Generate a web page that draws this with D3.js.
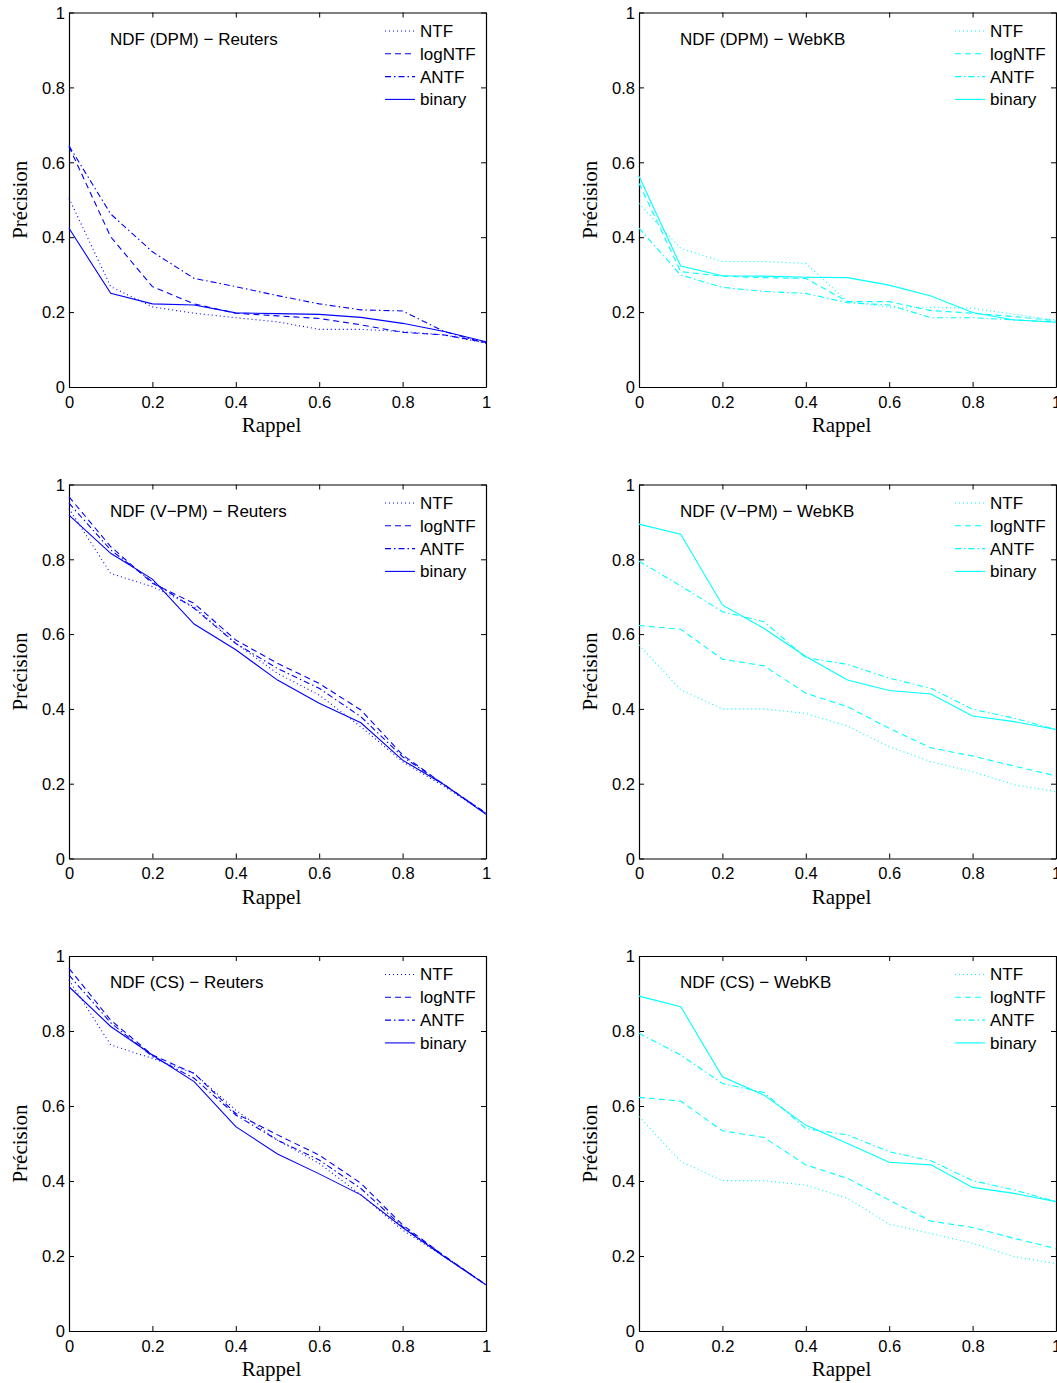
<!DOCTYPE html>
<html><head><meta charset="utf-8">
<script src="https://cdn.jsdelivr.net/npm/d3@7"></script>
<style>body{margin:0;background:#fff}</style>
</head><body>
<svg id="chart" width="1057" height="1383"></svg>
<script>
const recall = [0,0.1,0.2,0.3,0.4,0.5,0.6,0.7,0.8,0.9,1];
const seriesNames = ["NTF","logNTF","ANTF","binary"];
const ticks = [0,0.2,0.4,0.6,0.8,1];
const tickLabels = ["0","0.2","0.4","0.6","0.8","1"];
const titles = ["NDF (DPM) − Reuters","NDF (DPM) − WebKB","NDF (V−PM) − Reuters","NDF (V−PM) − WebKB","NDF (CS) − Reuters","NDF (CS) − WebKB"];

// DPM Reuters
const dpmReutersNTF    = [0.504,0.268,0.214,0.197,0.185,0.174,0.154,0.154,0.148,0.139,0.117];
const dpmReutersLog    = [0.642,0.401,0.268,0.222,0.197,0.190,0.183,0.166,0.146,0.139,0.119];
const dpmReutersANTF   = [0.644,0.462,0.361,0.290,0.268,0.244,0.222,0.206,0.203,0.148,0.117];
const dpmReutersBin    = [0.424,0.250,0.222,0.219,0.198,0.196,0.194,0.186,0.170,0.148,0.121];
// DPM WebKB
const dpmWebNTF        = [0.490,0.370,0.335,0.335,0.330,0.228,0.213,0.213,0.210,0.194,0.179];
const dpmWebLog        = [0.544,0.308,0.296,0.292,0.290,0.228,0.228,0.204,0.197,0.188,0.177];
const dpmWebANTF       = [0.424,0.299,0.266,0.255,0.250,0.225,0.219,0.185,0.185,0.179,0.174];
const dpmWebBin        = [0.563,0.323,0.297,0.296,0.293,0.292,0.272,0.243,0.199,0.179,0.173];
// V-PM Reuters
const vpmReutersNTF    = [0.936,0.762,0.727,0.673,0.575,0.495,0.437,0.352,0.259,0.192,0.121];
const vpmReutersLog    = [0.967,0.834,0.736,0.682,0.584,0.522,0.468,0.397,0.277,0.197,0.121];
const vpmReutersANTF   = [0.950,0.825,0.740,0.669,0.575,0.508,0.455,0.379,0.272,0.197,0.121];
const vpmReutersBin    = [0.918,0.816,0.747,0.627,0.558,0.477,0.415,0.363,0.263,0.197,0.118];
// V-PM WebKB
const vpmWebNTF        = [0.571,0.451,0.400,0.400,0.388,0.354,0.299,0.259,0.232,0.197,0.179];
const vpmWebLog        = [0.623,0.613,0.533,0.515,0.442,0.406,0.348,0.296,0.274,0.247,0.221];
const vpmWebANTF       = [0.795,0.729,0.660,0.633,0.537,0.519,0.482,0.455,0.399,0.375,0.345];
const vpmWebBin        = [0.894,0.867,0.678,0.615,0.540,0.477,0.449,0.440,0.381,0.366,0.345];
// CS Reuters
const csReutersNTF     = [0.936,0.763,0.727,0.687,0.589,0.509,0.447,0.363,0.269,0.198,0.123];
const csReutersLog     = [0.967,0.829,0.736,0.687,0.580,0.523,0.469,0.394,0.283,0.200,0.123];
const csReutersANTF    = [0.949,0.822,0.732,0.674,0.576,0.509,0.456,0.380,0.278,0.200,0.123];
const csReutersBin     = [0.918,0.812,0.736,0.665,0.545,0.472,0.419,0.363,0.276,0.198,0.123];
// CS WebKB
const csWebNTF         = [0.572,0.452,0.401,0.401,0.389,0.354,0.285,0.260,0.234,0.198,0.180];
const csWebLog         = [0.623,0.613,0.534,0.516,0.443,0.407,0.349,0.293,0.276,0.247,0.220];
const csWebANTF        = [0.794,0.736,0.660,0.636,0.540,0.523,0.478,0.454,0.401,0.376,0.345];
const csWebBin         = [0.893,0.865,0.678,0.629,0.549,0.500,0.450,0.443,0.383,0.367,0.345];

const panelData = [
  [dpmReutersNTF,dpmReutersLog,dpmReutersANTF,dpmReutersBin],
  [dpmWebNTF,dpmWebLog,dpmWebANTF,dpmWebBin],
  [vpmReutersNTF,vpmReutersLog,vpmReutersANTF,vpmReutersBin],
  [vpmWebNTF,vpmWebLog,vpmWebANTF,vpmWebBin],
  [csReutersNTF,csReutersLog,csReutersANTF,csReutersBin],
  [csWebNTF,csWebLog,csWebANTF,csWebBin]
];

const dashes = ["1,3","6,4","6,3,1.5,3",null];
const colX = [[69,486],[639,1056]];
const rowY = [[12.5,387],[484.5,858.5],[956,1331]];
const colors = ["#0000ff","#00ffff"];
const sans = "'Liberation Sans', Arial, Helvetica, sans-serif";
const serif = "'Liberation Serif', 'Times New Roman', serif";

const svg = d3.select("#chart");

panelData.forEach((series, i) => {
  const col = i % 2, row = Math.floor(i / 2);
  const [xl, xr] = colX[col];
  const [yt, yb] = rowY[row];
  const color = colors[col];
  const x = d3.scaleLinear().domain([0,1]).range([xl,xr]);
  const y = d3.scaleLinear().domain([0,1]).range([yb,yt]);
  const g = svg.append("g");

  const fmt = (d) => tickLabels[ticks.indexOf(d)] ?? d;
  const bottom = g.append("g").attr("transform",`translate(0,${yb})`)
    .call(d3.axisBottom(x).tickValues(ticks).tickFormat(fmt).tickSizeInner(-5).tickSizeOuter(0).tickPadding(9));
  const left = g.append("g").attr("transform",`translate(${xl},0)`)
    .call(d3.axisLeft(y).tickValues(ticks).tickFormat(fmt).tickSizeInner(-5).tickSizeOuter(0).tickPadding(4));
  const top = g.append("g").attr("transform",`translate(0,${yt})`)
    .call(d3.axisTop(x).tickValues(ticks).tickFormat("").tickSizeInner(-5).tickSizeOuter(0));
  const right = g.append("g").attr("transform",`translate(${xr},0)`)
    .call(d3.axisRight(y).tickValues(ticks).tickFormat("").tickSizeInner(-5).tickSizeOuter(0));
  [bottom,left,top,right].forEach(a => {
    a.select(".domain").attr("stroke","#000").attr("stroke-width",1.2);
    a.selectAll(".tick line").attr("stroke","#000").attr("stroke-width",1);
    a.selectAll("text").attr("font-family",sans).attr("font-size",16.5).attr("fill","#000");
  });
  bottom.selectAll("text").attr("dy","0.71em");
  left.selectAll("text").attr("dy","0.35em");

  const line = d3.line().x((d,k)=>x(recall[k])).y(d=>y(d));
  series.forEach((vals, s) => {
    const p = g.append("path").datum(vals).attr("d",line)
      .attr("fill","none").attr("stroke",color).attr("stroke-width",1.1);
    if (dashes[s]) p.attr("stroke-dasharray",dashes[s]);
  });

  g.append("text").attr("x",xl+41).attr("y",yt+32).text(titles[i])
    .attr("font-family",sans).attr("font-size",17).attr("fill","#000");

  seriesNames.forEach((nm, s) => {
    const ly = yt + 18.5 + s*22.8;
    const lx = xr - 101;
    const l = g.append("line").attr("x1",lx).attr("x2",lx+30).attr("y1",ly).attr("y2",ly)
      .attr("stroke",color).attr("stroke-width",1.1);
    if (dashes[s]) l.attr("stroke-dasharray",dashes[s]);
    g.append("text").attr("x",lx+35).attr("y",ly).attr("dy","0.35em").text(nm)
      .attr("font-family",sans).attr("font-size",17).attr("fill","#000");
  });

  g.append("text").attr("x",(xl+xr)/2 - 6).attr("y",yb+45).attr("text-anchor","middle")
    .text("Rappel").attr("font-family",serif).attr("font-size",21).attr("fill","#000");
  g.append("text").attr("transform",`translate(${xl-42},${(yt+yb)/2}) rotate(-90)`)
    .attr("text-anchor","middle").text("Précision")
    .attr("font-family",serif).attr("font-size",21).attr("fill","#000");
});
</script>
</body></html>
